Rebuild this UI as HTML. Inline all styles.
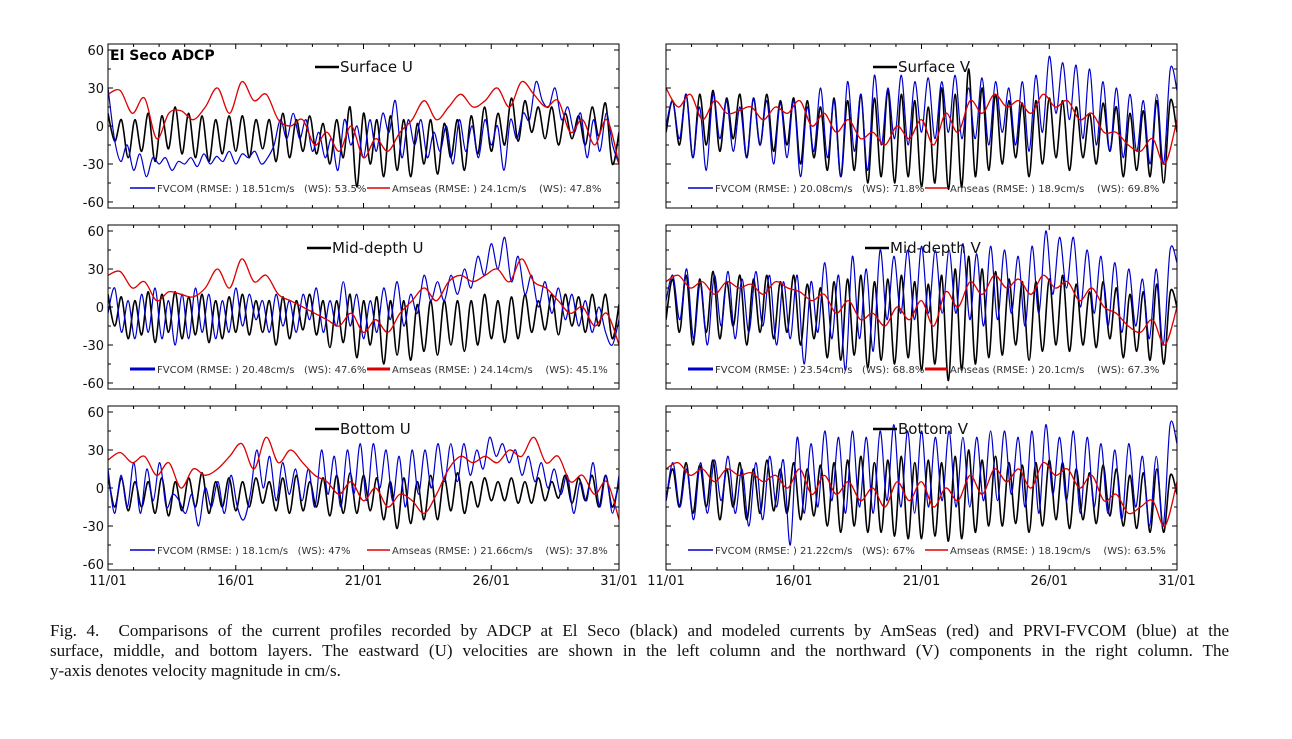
<!DOCTYPE html>
<html><head><meta charset="utf-8"><style>
body{margin:0;background:#fff;width:1292px;height:739px;overflow:hidden}
svg{position:absolute;left:0;top:0}
svg text{white-space:pre}
.cap{position:absolute;left:50px;top:621px;width:1179px;font-family:"Liberation Serif",serif;font-size:17px;line-height:20px;color:#111}
.cap .j{text-align:justify;text-align-last:justify}
</style></head><body>
<svg id="fig" width="1292" height="739"></svg>
<div class="cap"><div class="j">Fig. 4.&nbsp; Comparisons of the current profiles recorded by ADCP at El Seco (black) and modeled currents by AmSeas (red) and PRVI-FVCOM (blue) at the</div><div class="j">surface, middle, and bottom layers. The eastward (U) velocities are shown in the left column and the northward (V) components in the right column. The</div><div>y-axis denotes velocity magnitude in cm/s.</div></div>
<script>
const xTickLabels=["11/01","16/01","21/01","26/01","31/01"];
const xTickDays=[11,16,21,26,31];
const yTicks=[-60,-30,0,30,60];
const panelTitles=["Surface U","Surface V","Mid-depth U","Mid-depth V","Bottom U","Bottom V"];
const fvcomLegend=["FVCOM (RMSE: ) 18.51cm/s   (WS): 53.5%","FVCOM (RMSE: ) 20.08cm/s   (WS): 71.8%","FVCOM (RMSE: ) 20.48cm/s   (WS): 47.6%","FVCOM (RMSE: ) 23.54cm/s   (WS): 68.8%","FVCOM (RMSE: ) 18.1cm/s   (WS): 47%","FVCOM (RMSE: ) 21.22cm/s   (WS): 67%"];
const amseasLegend=["Amseas (RMSE: ) 24.1cm/s    (WS): 47.8%","Amseas (RMSE: ) 18.9cm/s    (WS): 69.8%","Amseas (RMSE: ) 24.14cm/s    (WS): 45.1%","Amseas (RMSE: ) 20.1cm/s    (WS): 67.3%","Amseas (RMSE: ) 21.66cm/s    (WS): 37.8%","Amseas (RMSE: ) 18.19cm/s    (WS): 63.5%"];
// ADCP (black)
const obsSurfU=[10,-12,5,-25,5,-20,10,-28,8,-18,15,-22,10,-25,8,-28,5,-22,8,-20,8,-25,5,-18,5,-28,10,-25,5,-20,8,-22,2,-30,5,-25,15,-48,10,-30,5,-40,8,-35,5,-40,2,-30,5,-38,2,-25,5,-35,8,-22,15,-20,10,-15,22,-12,20,-5,15,-10,15,-15,10,-10,8,-15,15,-8,18,-30,-5];
const obsSurfV=[-5,20,-15,25,-25,25,-15,28,-20,22,-10,25,-25,22,-15,25,-20,20,-15,22,-30,20,-25,15,-35,22,-40,20,-35,25,-45,22,-40,28,-45,25,-40,20,-48,15,-45,30,-50,25,-48,45,-40,30,-35,25,-30,20,-25,18,-40,20,-30,22,-25,20,-35,15,-25,10,-30,18,-20,15,-40,10,-35,12,-40,20,-45,20,-5];
const obsMidU=[10,-15,8,-25,5,-22,12,-28,10,-20,12,-25,8,-22,10,-28,5,-25,8,-20,10,-22,5,-20,5,-30,8,-25,5,-18,10,-22,5,-32,5,-28,10,-40,5,-30,8,-45,5,-38,5,-42,2,-35,5,-38,5,-30,5,-35,5,-30,10,-25,5,-28,8,-25,10,-20,5,-18,10,-22,10,-15,8,-20,10,-15,10,-25,2];
const obsMidV=[-10,22,-20,25,-30,22,-20,28,-25,20,-15,25,-30,22,-20,25,-25,20,-20,25,-30,18,-25,15,-40,20,-42,22,-38,25,-48,20,-42,22,-45,25,-40,20,-50,18,-45,25,-58,30,-50,40,-45,30,-40,28,-38,22,-30,20,-42,20,-35,22,-30,25,-35,18,-30,12,-32,20,-25,15,-40,10,-35,12,-42,18,-45,12,0];
const obsBotU=[10,-15,8,-18,5,-15,5,-20,8,-22,5,-18,8,-15,12,-20,5,-15,8,-18,5,-15,8,-12,5,-18,8,-20,10,-18,5,-15,8,-22,10,-20,12,-20,10,-18,8,-25,5,-32,8,-28,5,-25,10,-25,8,-18,12,-20,5,-15,8,-10,5,-10,8,-12,5,-12,8,-10,5,-8,10,-12,8,-10,10,-15,10,-15,5];
const obsBotV=[-10,15,-15,20,-20,18,-15,22,-25,15,-15,20,-25,15,-20,22,-18,15,-20,20,-25,15,-22,18,-30,20,-35,22,-30,25,-35,20,-35,22,-38,25,-40,20,-40,22,-38,20,-42,25,-40,30,-35,22,-30,25,-30,20,-28,18,-35,20,-30,22,-25,20,-32,15,-25,12,-28,18,-22,15,-30,10,-32,12,-35,15,-35,10,-5];
// FVCOM (blue)
const fvSurfU=[30,-10,-28,-15,-35,-22,-40,-25,-30,-25,-35,-28,-30,-25,-32,-22,-30,-24,-28,-20,-30,-22,-25,-20,-30,-25,-15,5,-10,10,-10,5,-20,-5,-25,-10,-35,5,-15,0,-25,5,-20,10,-5,20,-25,5,-15,5,-25,-5,-20,0,-30,5,-20,0,-25,5,-15,0,-35,5,-10,10,5,35,20,15,30,5,15,-5,10,-25,5,-20,10,-15,-30];
const fvSurfV=[0,20,-10,25,-25,15,-35,25,-10,20,-20,15,-25,22,-15,20,-30,18,-25,20,-40,15,-20,30,-25,20,-40,35,-20,25,-35,40,-15,30,-10,40,-15,35,-5,38,-10,35,-5,40,-10,30,-10,38,-15,35,-5,30,-15,35,-20,40,-5,55,10,50,5,48,-10,45,-15,35,-20,30,-25,25,-20,20,-30,25,-30,45,28];
const fvMidU=[-5,15,-20,5,-25,10,-20,15,-25,5,-30,10,-25,15,-20,10,-25,5,-20,15,-15,10,-10,5,-20,10,-15,5,-20,10,-10,15,-20,5,-15,20,-15,10,-25,5,-20,15,-10,20,-15,10,-5,25,5,20,5,25,10,30,15,40,25,50,30,55,20,40,10,25,0,20,-5,15,-10,10,-15,5,-20,0,-20,-30,-10];
const fvMidV=[5,25,-10,30,-25,20,-30,25,-15,28,-25,22,-20,28,-15,25,-30,20,-25,25,-45,20,-20,35,-25,25,-50,40,-25,30,-35,45,-10,40,-5,45,-10,48,-5,45,-5,45,-5,50,-10,42,-15,48,-10,45,-5,40,-15,48,-5,60,10,55,15,55,0,45,-5,40,-15,35,-20,30,-15,22,-25,30,-30,45,35];
const fvBotU=[15,-20,10,-15,20,-20,15,-10,20,-15,-5,-10,-20,-5,-30,0,-15,5,-20,10,-15,-25,-5,30,0,25,-10,20,-5,15,-10,15,-15,30,-5,25,-15,30,-5,35,-10,35,0,30,-10,25,-15,30,-5,30,0,35,5,35,5,35,10,30,15,40,25,35,20,30,10,25,5,20,0,15,-5,10,-20,5,-10,20,-15,10,-20,10];
const fvBotV=[-10,20,-15,15,-25,20,-20,22,-10,25,-20,15,-30,20,-25,25,-15,22,-45,40,-20,35,-15,45,-10,40,-20,45,-15,40,-20,45,-10,50,-15,45,-20,45,-15,40,-10,45,-15,40,-15,40,-10,45,-10,45,-5,40,-15,45,-20,50,-5,40,-10,45,-20,40,-15,35,-20,30,-25,35,-15,25,-30,25,-30,50,35];
// AmSeas (red)
const amSurfU=[25,28,10,22,-10,10,12,5,15,30,10,35,20,25,5,0,5,-15,-5,-20,0,-25,-10,-20,-5,5,20,5,15,25,15,20,30,15,35,25,15,20,-5,5,-15,5,-30];
const amSurfV=[30,15,25,5,20,10,12,15,5,15,10,20,0,10,-5,5,-10,-5,-15,0,-10,5,-15,10,-5,20,10,25,15,20,10,25,15,20,5,10,-5,-5,-15,-20,-10,-30,5];
const amMidU=[25,28,15,20,5,12,10,8,15,30,15,38,20,25,10,5,0,-5,-10,-15,-5,-20,-10,-20,-5,5,15,5,20,25,20,25,30,20,38,20,15,5,-5,0,-15,-5,-30];
const amMidV=[20,25,15,20,10,20,15,18,10,20,15,12,5,10,-5,5,-10,-5,-15,0,-10,5,-15,12,0,20,10,25,15,22,10,25,15,20,5,15,0,-5,-15,-20,-10,-30,0];
const amBotU=[22,28,20,25,10,20,0,15,10,15,25,35,15,40,20,30,20,10,5,-5,5,-10,0,-15,-5,-10,-20,-5,15,25,20,25,20,30,25,40,20,25,5,10,-5,5,-25];
const amBotV=[15,20,10,15,5,15,10,12,5,10,0,15,-5,10,-5,5,-10,0,-15,5,-10,5,-15,0,-10,10,-5,15,5,15,0,20,10,15,0,10,-10,-5,-20,-15,-10,-30,5];

const obs=[obsSurfU,obsSurfV,obsMidU,obsMidV,obsBotU,obsBotV];
const fv=[fvSurfU,fvSurfV,fvMidU,fvMidV,fvBotU,fvBotV];
const am=[amSurfU,amSurfV,amMidU,amMidV,amBotU,amBotV];

const NS="http://www.w3.org/2000/svg";
const svg=document.getElementById('fig');
function mk(tag,attrs,parent){const e=document.createElementNS(NS,tag);for(const k in attrs)e.setAttribute(k,attrs[k]);(parent||svg).appendChild(e);return e;}
const colX=[108,666], W=511;
const rowTop=[44,225,406], H=164;
const FONT='"DejaVu Sans","Liberation Sans",sans-serif';
for(let p=0;p<6;p++){
  const c=p%2,r=Math.floor(p/2);
  const x0=colX[c],y0=rowTop[r];
  const g=mk('g',{});
  
  
  const xs=d=>x0+(d-11)/20*W;
  const ys=v=>y0+6+(60-v)*(152/120);
  const clipId='clip'+p;
  const cp=mk('clipPath',{id:clipId},g);mk('rect',{x:x0,y:y0,width:W,height:H},cp);
  function series(arr,color,width,name){
    const pts=arr.map((v,i)=>[xs(11+i/(arr.length-1)*20),ys(v)]);
    let d='M'+pts[0][0].toFixed(1)+','+pts[0][1].toFixed(1);
    for(let i=0;i<pts.length-1;i++){
      const p0=pts[Math.max(0,i-1)],p1=pts[i],p2=pts[i+1],p3=pts[Math.min(pts.length-1,i+2)];
      const c1x=p1[0]+(p2[0]-p0[0])/6,c1y=p1[1]+(p2[1]-p0[1])/6;
      const c2x=p2[0]-(p3[0]-p1[0])/6,c2y=p2[1]-(p3[1]-p1[1])/6;
      d+='C'+c1x.toFixed(1)+','+c1y.toFixed(1)+' '+c2x.toFixed(1)+','+c2y.toFixed(1)+' '+p2[0].toFixed(1)+','+p2[1].toFixed(1);
    }
    const pth=mk('path',{d:d,fill:'none',stroke:color,'stroke-width':width,'stroke-linejoin':'round','clip-path':'url(#'+clipId+')'},g);
    
    
  }
  series(obs[p],'#000',1.6,'adcp-line');
  series(fv[p],'#0000cc',1.2,'fvcom-line');
  series(am[p],'#dd0000',1.3,'amseas-line');
  mk('rect',{x:x0,y:y0,width:W,height:H,fill:'none',stroke:'#000','stroke-width':1},g);
  for(let d=11;d<=31;d+=1){const big=xTickDays.includes(d);const len=big?5:3;
    mk('line',{x1:xs(d),x2:xs(d),y1:y0,y2:y0+len,stroke:'#000','stroke-width':1},g);
    mk('line',{x1:xs(d),x2:xs(d),y1:y0+H,y2:y0+H-len,stroke:'#000','stroke-width':1},g);}
  for(let v=-60;v<=60;v+=15){const len=(v%30===0)?5:3;
    mk('line',{x1:x0,x2:x0+len,y1:ys(v),y2:ys(v),stroke:'#000','stroke-width':1},g);
    mk('line',{x1:x0+W,x2:x0+W-len,y1:ys(v),y2:ys(v),stroke:'#000','stroke-width':1},g);}
  if(c===0){yTicks.forEach(v=>{const t=mk('text',{x:x0-4,y:ys(v)+5,'text-anchor':'end','font-family':FONT,'font-size':13,fill:'#111'},g);t.textContent=v;
    });}
  if(r===2){xTickDays.forEach((d,i)=>{const t=mk('text',{x:xs(d),y:585,'text-anchor':'middle','font-family':FONT,'font-size':13,fill:'#111'},g);t.textContent=xTickLabels[i];
    });}
  const tx=x0+207+(r===1?-8:0);
  mk('line',{x1:tx,x2:tx+24,y1:y0+23,y2:y0+23,stroke:'#000','stroke-width':2.5},g);
  const tt=mk('text',{x:tx+25,y:y0+28,'font-family':FONT,'font-size':15,fill:'#111'},g);tt.textContent=panelTitles[p];
  
  const ly=y0+144;
  mk('line',{x1:x0+22,x2:x0+47,y1:ly,y2:ly,stroke:'#0000cc','stroke-width':r===1?3:1.6},g);
  const l1=mk('text',{x:x0+49,y:ly+4,'font-family':FONT,'font-size':10,fill:'#333'},g);l1.textContent=fvcomLegend[p];
  
  mk('line',{x1:x0+259,x2:x0+282,y1:ly,y2:ly,stroke:'#dd0000','stroke-width':r===1?3:1.6},g);
  const l2=mk('text',{x:x0+284,y:ly+4,'font-family':FONT,'font-size':10,fill:'#333'},g);l2.textContent=amseasLegend[p];
  
}
const st=mk('text',{x:110,y:60,'font-family':FONT,'font-size':14,'font-weight':'bold',fill:'#000'});
st.textContent='El Seco ADCP';


</script>
</body></html>
